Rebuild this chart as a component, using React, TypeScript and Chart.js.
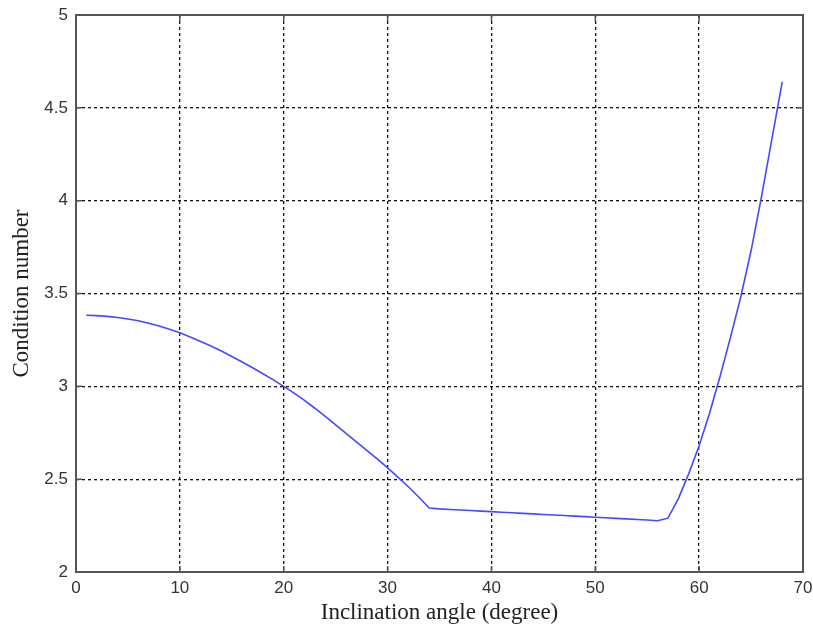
import React, { useEffect, useRef } from "react";
import { Chart, registerables } from "chart.js";

Chart.register(...registerables);

const angles: number[] = [
  1, 2, 3, 4, 5, 6, 7, 8, 9, 10, 11, 12, 13, 14, 15, 16, 17, 18, 19, 20,
  21, 22, 23, 24, 25, 26, 27, 28, 29, 30, 31, 32, 33, 34, 35, 36, 37, 38, 39, 40,
  41, 42, 43, 44, 45, 46, 47, 48, 49, 50, 51, 52, 53, 54, 55, 56, 57, 58, 59, 60,
  61, 62, 63, 64, 65, 66, 67, 68,
];

const conditionNumber: number[] = [
  3.383, 3.381, 3.377, 3.371, 3.363, 3.353, 3.34, 3.325, 3.308, 3.288,
  3.266, 3.242, 3.217, 3.19, 3.161, 3.131, 3.1, 3.068, 3.035, 3.0,
  2.963, 2.924, 2.882, 2.838, 2.793, 2.747, 2.701, 2.655, 2.609, 2.561,
  2.511, 2.459, 2.404, 2.345, 2.34, 2.337, 2.334, 2.331, 2.328, 2.325,
  2.322, 2.319, 2.316, 2.313, 2.31, 2.307, 2.304, 2.301, 2.298, 2.295,
  2.292, 2.289, 2.286, 2.283, 2.28, 2.276, 2.29, 2.395, 2.53, 2.68,
  2.855, 3.05, 3.26, 3.48, 3.73, 4.02, 4.33, 4.64,
];

const xTicks: number[] = [0, 10, 20, 30, 40, 50, 60, 70];
const yTicks: number[] = [2, 2.5, 3, 3.5, 4, 4.5, 5];

const frameAndTicks = {
  id: "frameAndTicks",
  afterDraw(chart: any) {
    const { ctx, chartArea } = chart;
    const { left, right, top, bottom } = chartArea;
    const xs = chart.scales.x;
    const ys = chart.scales.y;
    ctx.save();
    ctx.strokeStyle = "#555";
    ctx.lineWidth = 2;
    ctx.setLineDash([]);
    ctx.strokeRect(left, top, right - left, bottom - top);
    ctx.lineWidth = 1.5;
    const tl = 6;
    ctx.beginPath();
    for (const v of xTicks) {
      const px = xs.getPixelForValue(v);
      ctx.moveTo(px, bottom);
      ctx.lineTo(px, bottom - tl);
      ctx.moveTo(px, top);
      ctx.lineTo(px, top + tl);
    }
    for (const v of yTicks) {
      const py = ys.getPixelForValue(v);
      ctx.moveTo(left, py);
      ctx.lineTo(left + tl, py);
      ctx.moveTo(right, py);
      ctx.lineTo(right - tl, py);
    }
    ctx.stroke();
    ctx.restore();
  },
};

export default function App() {
  const ref = useRef<HTMLCanvasElement | null>(null);

  useEffect(() => {
    document.body.style.margin = "0";
    const canvas = ref.current;
    if (!canvas) return;
    const chart = new Chart(canvas, {
      type: "line",
      data: {
        datasets: [
          {
            data: angles.map((a, i) => ({ x: a, y: conditionNumber[i] })),
            borderColor: "#4848ff",
            borderWidth: 1.6,
            pointRadius: 0,
            tension: 0,
            fill: false,
          },
        ],
      },
      options: {
        animation: false,
        responsive: false,
        maintainAspectRatio: false,
        layout: { padding: { top: 15, right: 10, left: 0, bottom: 0 } },
        plugins: { legend: { display: false }, tooltip: { enabled: false } },
        scales: {
          x: {
            type: "linear",
            min: 0,
            max: 70,
            afterFit: (s: any) => {
              s.height = 62;
              s.paddingLeft = 0;
              s.paddingRight = 0;
            },
            afterBuildTicks: (s: any) => {
              s.ticks = xTicks.map((v) => ({ value: v }));
            },
            grid: { color: "#111", lineWidth: 1.3, drawTicks: false },
            border: { display: false, dash: [3, 3] },
            ticks: {
              color: "#333",
              font: { family: "Liberation Sans, Arial", size: 17 },
              padding: 6,
              maxRotation: 0,
              callback: (v: any) => String(v),
            },
            title: {
              display: true,
              text: "Inclination angle (degree)",
              color: "#222",
              font: { family: "Liberation Serif, Times New Roman", size: 23 },
              padding: { top: 0, bottom: 7 },
            },
          },
          y: {
            type: "linear",
            min: 2,
            max: 5,
            afterFit: (s: any) => {
              s.width = 76;
              s.paddingTop = 0;
              s.paddingBottom = 0;
            },
            afterBuildTicks: (s: any) => {
              s.ticks = yTicks.map((v) => ({ value: v }));
            },
            grid: { color: "#111", lineWidth: 1.3, drawTicks: false },
            border: { display: false, dash: [3, 3] },
            ticks: {
              color: "#333",
              font: { family: "Liberation Sans, Arial", size: 17 },
              padding: 8,
              callback: (v: any) => String(v),
            },
            title: {
              display: true,
              text: "Condition number",
              color: "#222",
              font: { family: "Liberation Serif, Times New Roman", size: 23 },
              padding: { top: 8, bottom: 0 },
            },
          },
        },
      },
      plugins: [frameAndTicks],
    });
    return () => chart.destroy();
  }, []);

  return (
    <div style={{ width: 813, height: 634, background: "#fff" }}>
      <canvas ref={ref} width={813} height={634} style={{ display: "block" }} />
    </div>
  );
}
